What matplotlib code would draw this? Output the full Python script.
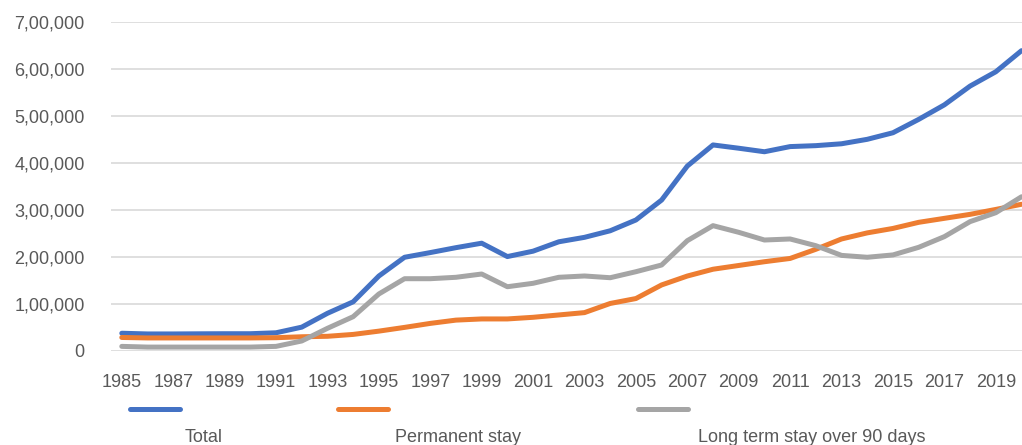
import matplotlib.pyplot as plt
from matplotlib.lines import Line2D
from matplotlib.ticker import FuncFormatter

# values
years = list(range(1985, 2021))
total = [37000, 35500, 35500, 35800, 36000, 36000, 38000, 50000, 79500, 104000,
         159000, 199000, 209000, 219500, 229000, 200500, 212000, 232000, 241500, 255500,
         278500, 321000, 393500, 438500, 431500, 424000, 435000, 437000, 441000, 450500,
         464500, 493000, 524000, 564000, 594500, 639500]
permanent = [28000, 27000, 27000, 27000, 27000, 27000, 27500, 29500, 30500, 34500,
             41500, 49500, 58000, 65000, 67500, 67500, 71000, 76000, 81000, 100500,
             111000, 140000, 159000, 173500, 181500, 189500, 196500, 216000, 238000, 251000,
             260500, 273500, 282000, 290500, 301000, 312000]
long_term = [9000, 7500, 7500, 7500, 7500, 7500, 9000, 20500, 47500, 72300,
             120700, 153300, 153300, 156300, 163300, 136200, 143500, 156300, 159100, 155400,
             168200, 182500, 234400, 266400, 252200, 235800, 238000, 223700, 203000, 199000,
             204000, 220200, 243000, 275000, 294000, 328000]

series = [("Total", total, "#4472C4"),
          ("Permanent stay", permanent, "#ED7D31"),
          ("Long term stay over 90 days", long_term, "#A5A5A5")]
xtick_years = list(range(1985, 2020, 2))
yticks = list(range(0, 700001, 100000))

plt.rcParams['font.family'] = ['Liberation Sans', 'DejaVu Sans']

W, H = 1022, 445
fig = plt.figure(figsize=(W / 100, H / 100), dpi=100)
ax = fig.add_axes([111 / W, 1 - 350.6 / H, (W - 111) / W, (350.6 - 22.3) / H])

for name, vals, color in series:
    ax.plot(years, vals, color=color, lw=3.6, solid_capstyle='round',
            solid_joinstyle='round', zorder=3)

ax.set_xlim(1984.58, 2020.02)
ax.set_ylim(0, 700000)
ax.set_xticks(xtick_years)
ax.set_yticks(yticks)


def indian_fmt(v, pos):
    v = int(round(v))
    if v == 0:
        return "0"
    s = str(v)
    last3, rest = s[-3:], s[:-3]
    parts = []
    while len(rest) > 2:
        parts.insert(0, rest[-2:])
        rest = rest[:-2]
    if rest:
        parts.insert(0, rest)
    return ",".join(parts + [last3])


ax.yaxis.set_major_formatter(FuncFormatter(indian_fmt))
ax.grid(axis='y', color='#D9D9D9', lw=1.2, zorder=0)
for sp in ax.spines.values():
    sp.set_visible(False)
ax.tick_params(axis='both', length=0, labelsize=13, labelcolor='#595959')
ax.tick_params(axis='x', pad=17)
ax.tick_params(axis='y', pad=19)

# legend: line sample above, label below
line_x = [(130, 180), (338, 388), (638, 688)]
label_x = [204, 458, 812]
for (name, vals, color), (x0, x1), lx in zip(series, line_x, label_x):
    fig.add_artist(Line2D([x0 / W, x1 / W], [1 - 409 / H] * 2, color=color, lw=3.6,
                          solid_capstyle='round', transform=fig.transFigure))
    fig.text(lx / W, 1 - 437 / H, name, ha='center', va='center', fontsize=13,
             color='#595959')

fig.savefig("out.png", dpi=100)
